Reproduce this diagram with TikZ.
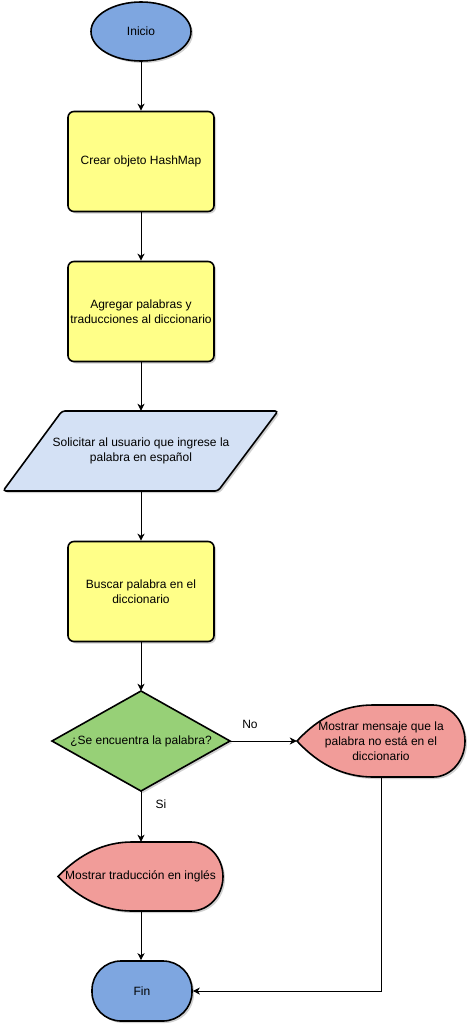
\documentclass[tikz,border=0pt]{standalone}
\usepackage{fontspec}
\setmainfont{Liberation Sans}
\usetikzlibrary{shapes.geometric,arrows.meta,shadows}

\definecolor{termblue}{HTML}{7EA6E0}
\definecolor{procyellow}{HTML}{FFFF88}
\definecolor{iolight}{HTML}{D4E1F5}
\definecolor{decgreen}{HTML}{97D077}
\definecolor{showred}{HTML}{F19C99}

\tikzset{
  txt/.style={font=\fontsize{12}{15}\selectfont, align=center, text=black, inner sep=0pt},
  outline/.style={draw=black, line width=1.6pt},
  shade/.style={drop shadow={shadow xshift=2pt, shadow yshift=-2pt, opacity=0.18, fill=black}},
  terminal/.style={txt, outline, shade, fill=termblue},
  procbox/.style={txt, outline, shade, fill=procyellow, rectangle, rounded corners=6pt,
                  minimum width=146pt, minimum height=100pt},
  frame/.style={txt, rectangle},
  flow/.style={-{Stealth[length=7pt,width=7pt,inset=2pt]}, line width=1pt},
  tag/.style={txt}
}

\begin{document}
\begin{tikzpicture}[x=1pt,y=-1pt]
  \useasboundingbox (0,0) rectangle (475,1033);

  % start / end terminals
  \node[terminal, ellipse, minimum width=100pt, minimum height=59pt] (ini) at (141,31.5) {Inicio};
  \node[terminal, rectangle, rounded corners=29pt, minimum width=100pt, minimum height=60pt] (fin) at (142,991) {Fin};

  % process steps
  \node[procbox] (crear) at (141,161.5) {Crear objeto HashMap};
  \node[procbox] (agregar) at (141,311.5) {Agregar palabras y\\traducciones al diccionario};
  \node[procbox] (buscar) at (141,591.5) {Buscar palabra en el\\diccionario};

  % input parallelogram
  \draw[outline, shade, fill=iolight, rounded corners=3pt]
    (62,411) -- (278,411) -- (218,491) -- (3,491) -- cycle;
  \node[frame, minimum width=275pt, minimum height=80pt] (leer) at (141,451)
    {Solicitar al usuario que ingrese la\\palabra en español};

  % decision diamond
  \draw[outline, shade, fill=decgreen]
    (141,691) -- (230,741) -- (141,791) -- (52,741) -- cycle;
  \node[frame, minimum width=178pt, minimum height=100pt] (pregunta) at (141,741)
    {¿Se encuentra la palabra?};

  % display: word not found
  \draw[outline, shade, fill=showred]
    (297,741) .. controls (319,717) and (344.3,705) .. (373,705) -- (433,705)
    .. controls (450.7,705) and (465,721.1) .. (465,741)
    .. controls (465,760.9) and (450.7,777) .. (433,777) -- (373,777)
    .. controls (344.3,777) and (319,765) .. (297,741) -- cycle;
  \node[frame, minimum width=168pt, minimum height=72pt] (nohay) at (381,741)
    {Mostrar mensaje que la\\palabra no está en el\\diccionario};

  % display: translation
  \draw[outline, shade, fill=showred]
    (58,876.5) .. controls (80,853.5) and (104.7,842) .. (132,842) -- (191,842)
    .. controls (208.7,842) and (223,857.45) .. (223,876.5)
    .. controls (223,895.55) and (208.7,911) .. (191,911) -- (132,911)
    .. controls (104.7,911) and (80,899.5) .. (58,876.5) -- cycle;
  \node[frame, minimum width=165pt, minimum height=69pt] (traduccion) at (140.5,876.5)
    {Mostrar traducción en inglés};

  % branch labels
  \node[tag] (no) at (250,724) {No};
  \node[tag] (si) at (161,804) {Si};

  % connectors
  \draw[flow] (ini.south) -- (crear.north);
  \draw[flow] (crear.south) -- (agregar.north);
  \draw[flow] (agregar.south) -- (leer.north);
  \draw[flow] (leer.south) -- (buscar.north);
  \draw[flow] (buscar.south) -- (pregunta.north);
  \draw[flow] (pregunta.east) -- (nohay.west);
  \draw[flow] (pregunta.south) -- (traduccion.north -| pregunta.south);
  \draw[flow] (traduccion.south -| pregunta.south) -- (fin.north -| pregunta.south);
  \draw[flow] (nohay.south) |- (fin.east);
\end{tikzpicture}
\end{document}
